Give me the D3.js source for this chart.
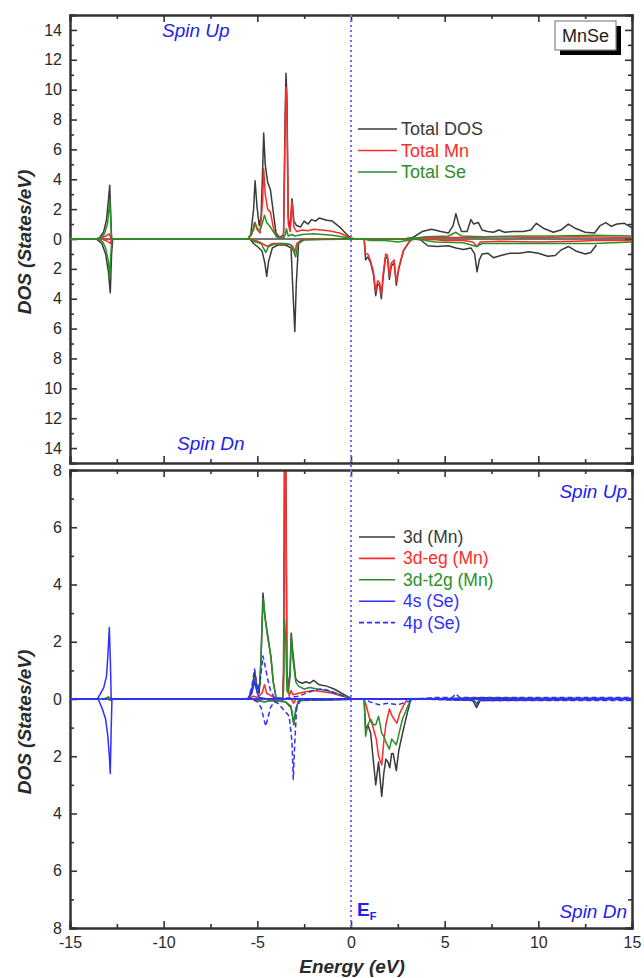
<!DOCTYPE html>
<html><head><meta charset="utf-8">
<script src="https://cdn.jsdelivr.net/npm/d3@7"></script>
<style>body{margin:0;background:#fff}svg{display:block}text{font-family:"Liberation Sans",Arial,sans-serif}</style>
</head><body><svg id="c" width="644" height="978"></svg>
<script>
// ---------- DATA ----------
const xTicks = [-15,-10,-5,0,5,10,15];
const topTicks = [-14,-12,-10,-8,-6,-4,-2,0,2,4,6,8,10,12,14];
const botTicks = [-8,-6,-4,-2,0,2,4,6,8];
const topLegend = ["Total DOS","Total Mn","Total Se"];
const botLegend = ["3d (Mn)","3d-eg (Mn)","3d-t2g (Mn)","4s (Se)","4p (Se)"];

// Top panel: [energy, DOS]
const totalUp = [[-15,0],[-13.6,0],[-13.4,0.1],[-13.2,0.5],[-13.05,1.3],[-12.95,2.6],[-12.88,3.6],[-12.82,1.5],[-12.78,0],[-5.5,0],[-5.35,0.3],[-5.2,2.0],[-5.12,3.9],[-5.02,2.2],[-4.9,0.9],[-4.8,1.5],[-4.72,4.5],[-4.66,7.1],[-4.58,5.0],[-4.45,3.8],[-4.3,3.3],[-4.15,1.8],[-4.0,0.4],[-3.8,0.1],[-3.6,0.3],[-3.52,8],[-3.47,11.1],[-3.42,9.5],[-3.35,1.5],[-3.25,0.6],[-3.15,2.7],[-3.05,1.2],[-2.9,0.9],[-2.7,0.8],[-2.5,1.2],[-2.3,1.0],[-2.1,1.3],[-1.9,1.2],[-1.7,1.4],[-1.3,1.25],[-1,1.2],[-0.6,0.8],[-0.3,0.4],[0,0.05],[0.3,0],[2.8,0],[3.3,0.1],[3.8,0.5],[4.3,0.65],[4.8,0.5],[5.2,0.4],[5.45,0.9],[5.6,1.7],[5.75,1.0],[5.9,0.5],[6.2,0.5],[6.4,1.3],[6.55,1.0],[6.8,1.1],[7.0,0.6],[7.3,0.5],[7.6,0.45],[7.9,0.6],[8.2,0.45],[8.6,0.5],[9.2,0.5],[9.6,0.6],[9.9,1.05],[10.3,0.7],[10.8,0.45],[11.2,0.6],[11.6,1.0],[12.0,0.7],[12.5,0.45],[13.0,0.4],[13.3,0.9],[13.6,1.1],[13.9,0.85],[14.2,1.0],[14.6,1.05],[15,0.75]];
const totalDn = [[-15,0],[-13.6,0],[-13.3,-0.3],[-13.1,-1.0],[-12.95,-2.2],[-12.85,-3.6],[-12.78,-1.0],[-12.72,0],[-5.4,0],[-5.2,-0.3],[-5.0,-0.5],[-4.75,-0.8],[-4.6,-1.6],[-4.5,-2.5],[-4.4,-1.5],[-4.2,-0.6],[-3.9,-0.4],[-3.5,-0.4],[-3.2,-0.6],[-3.1,-3.5],[-3.0,-6.2],[-2.92,-3.0],[-2.8,-0.3],[-2.5,-0.05],[-1,0],[0.7,0],[0.78,-1.4],[0.9,-1.2],[1.05,-1.6],[1.2,-2.4],[1.32,-3.8],[1.42,-3.0],[1.52,-3.1],[1.62,-4.0],[1.72,-2.5],[1.85,-1.2],[1.95,-1.3],[2.05,-2.7],[2.15,-1.8],[2.3,-1.6],[2.42,-3.1],[2.55,-2.0],[2.8,-0.8],[3.1,-0.2],[3.3,0],[3.7,-0.05],[4.1,-0.45],[4.6,-0.5],[5.2,-0.45],[5.6,-0.6],[6.0,-0.7],[6.4,-0.6],[6.6,-1.0],[6.73,-2.2],[6.85,-1.4],[7.0,-1.0],[7.3,-0.95],[7.6,-1.25],[8.0,-1.1],[8.5,-0.95],[9.0,-0.95],[9.5,-0.85],[10.0,-0.95],[10.5,-1.15],[10.9,-1.1],[11.2,-0.75],[11.6,-0.5],[12.0,-0.8],[12.5,-1.0],[12.8,-0.9],[13.1,-0.4]];
const mnUp = [[-15,0],[-13.4,0],[-13.1,0.2],[-12.9,0.35],[-12.8,0],[-5.5,0],[-5.2,0.6],[-5.12,1.1],[-5.0,0.6],[-4.85,0.4],[-4.72,2.5],[-4.66,4.7],[-4.58,3.0],[-4.45,2.0],[-4.3,1.8],[-4.15,0.8],[-4.0,0.15],[-3.6,0.1],[-3.52,7],[-3.47,10.2],[-3.42,8.5],[-3.35,1.0],[-3.25,0.5],[-3.15,2.5],[-3.05,0.8],[-2.9,0.5],[-2.6,0.6],[-2.3,0.55],[-2.0,0.65],[-1.6,0.6],[-1.2,0.55],[-0.6,0.4],[0,0.05],[0.3,0],[3,0],[4,0.1],[6,0.1],[8,0.15],[10,0.1],[12,0.15],[15,0.1]];
const mnDn = [[-15,0],[-13.3,0],[-13.0,-0.15],[-12.85,-0.3],[-12.78,0],[-5.3,0],[-4.9,-0.2],[-4.6,-0.4],[-4.45,-0.5],[-4.2,-0.3],[-3.8,-0.3],[-3.3,-0.35],[-3.1,-0.5],[-3.0,-0.9],[-2.9,-0.3],[-2.6,0],[0.7,0],[0.78,-1.0],[0.9,-1.0],[1.05,-1.5],[1.2,-2.2],[1.32,-3.5],[1.42,-2.8],[1.52,-2.9],[1.62,-3.7],[1.72,-2.3],[1.85,-1.0],[1.95,-1.1],[2.05,-2.5],[2.15,-1.6],[2.3,-1.4],[2.42,-2.9],[2.55,-1.9],[2.8,-0.75],[3.1,-0.2],[3.3,0],[4,0],[5,-0.1],[6,-0.1],[6.5,-0.2],[6.73,-0.5],[6.9,-0.2],[8,-0.15],[10,-0.2],[12,-0.15],[13,-0.1],[15,-0.1]];
const seUp = [[-15,0],[-13.5,0],[-13.3,0.1],[-13.15,0.4],[-13.0,1.0],[-12.92,2.0],[-12.88,2.6],[-12.82,1.0],[-12.78,0],[-5.5,0],[-5.3,0.3],[-5.15,1.1],[-5.0,0.7],[-4.85,0.6],[-4.7,1.2],[-4.62,1.6],[-4.5,1.1],[-4.3,0.8],[-4.1,0.4],[-3.9,0.1],[-3.6,0.05],[-3.5,0.3],[-3.45,0.7],[-3.35,0.2],[-3.15,0.3],[-3.0,0.2],[-2.6,0.3],[-2.0,0.35],[-1.5,0.3],[-1.0,0.25],[-0.5,0.15],[0,0.03],[0.3,0],[3,0],[4,0.15],[5.2,0.2],[5.6,0.45],[5.9,0.2],[7,0.15],[9,0.2],[11,0.2],[13,0.25],[15,0.2]];
const seDn = [[-15,0],[-13.5,0],[-13.25,-0.2],[-13.1,-0.6],[-12.95,-1.5],[-12.88,-2.6],[-12.82,-1.0],[-12.76,0],[-5.4,0],[-5.1,-0.2],[-4.8,-0.3],[-4.55,-0.9],[-4.4,-0.5],[-4.1,-0.35],[-3.8,-0.3],[-3.5,-0.3],[-3.2,-0.4],[-3.05,-0.9],[-2.95,-1.2],[-2.85,-0.4],[-2.6,-0.05],[0.7,0],[1.0,-0.1],[1.8,-0.1],[2.5,-0.2],[3.0,-0.1],[3.5,0],[4.5,-0.2],[6,-0.25],[6.7,-0.5],[7,-0.3],[9,-0.3],[11,-0.3],[13,-0.3],[15,-0.2]];

// Bottom panel: [energy, DOS]
const d3Up = [[-15,0],[-13.2,0],[-12.95,0.05],[-12.8,0],[-5.5,0],[-5.3,0.3],[-5.14,0.95],[-5.0,0.3],[-4.9,0.2],[-4.8,1.5],[-4.7,3.7],[-4.6,2.9],[-4.46,2.3],[-4.28,1.5],[-4.15,0.6],[-4.0,0.05],[-3.65,-0.05],[-3.6,1.0],[-3.55,8.3],[-3.48,8.3],[-3.42,1.0],[-3.35,0.3],[-3.25,1.0],[-3.19,2.3],[-3.1,1.6],[-2.95,0.7],[-2.8,0.6],[-2.6,0.55],[-2.4,0.6],[-2.2,0.55],[-2.0,0.65],[-1.7,0.5],[-1.3,0.45],[-0.9,0.35],[-0.5,0.2],[0,0.02],[0.3,0],[5,0.02],[7,0.04],[10,0.03],[15,0.03]];
const egUp = [[-15,0],[-5.5,0],[-5.2,0.1],[-5.0,0.05],[-4.75,0.2],[-4.62,0.5],[-4.5,0.2],[-4.1,0.05],[-3.65,0],[-3.6,0.8],[-3.55,7.9],[-3.48,7.9],[-3.42,0.8],[-3.3,0.1],[-3.2,0.3],[-3.1,0.15],[-2.8,0.2],[-2.4,0.25],[-2.0,0.3],[-1.5,0.25],[-1.0,0.2],[-0.5,0.1],[0,0.02],[0.3,0],[15,0]];
const t2gUp = [[-15,0],[-13.1,0],[-12.95,0.08],[-12.8,0],[-5.5,0],[-5.3,0.2],[-5.14,0.7],[-5.0,0.25],[-4.85,0.5],[-4.75,2.5],[-4.68,3.5],[-4.58,2.8],[-4.46,2.2],[-4.28,1.5],[-4.15,0.6],[-4.0,0.05],[-3.65,0],[-3.6,0.3],[-3.55,2.8],[-3.48,2.0],[-3.42,0.3],[-3.35,0.2],[-3.25,0.8],[-3.19,2.2],[-3.1,1.4],[-2.95,0.6],[-2.8,0.45],[-2.5,0.35],[-2.2,0.4],[-1.8,0.35],[-1.3,0.3],[-0.8,0.2],[-0.4,0.1],[0,0.02],[0.3,0],[15,0]];
const s4Up = [[-15,0],[-13.55,0],[-13.4,0.15],[-13.2,0.4],[-13.05,0.8],[-12.98,1.5],[-12.9,2.5],[-12.84,1.2],[-12.8,0],[-5.5,0],[-5.3,0.2],[-5.15,0.6],[-5.0,0.2],[-4.9,0.05],[-4.6,0.02],[15,0]];
const p4Up = [[-15,0],[-5.5,0],[-5.3,0.4],[-5.15,1.05],[-5.05,0.6],[-4.95,0.3],[-4.8,0.9],[-4.7,1.5],[-4.6,1.2],[-4.45,0.7],[-4.3,0.3],[-4.1,0.05],[-3.6,0.02],[-3.2,0.05],[-2.8,0.1],[-2.4,0.2],[-2.0,0.3],[-1.6,0.35],[-1.2,0.3],[-0.8,0.2],[-0.4,0.1],[0,0.02],[0.5,0],[3.5,0],[4.5,0.05],[5.4,0.05],[5.6,0.18],[5.8,0.05],[7,0.05],[9,0.05],[11,0.05],[13,0.05],[15,0.05]];
const d3Dn = [[-15,0],[-5.3,0],[-5.0,-0.05],[-4.6,-0.1],[-4.3,-0.05],[-3.5,-0.1],[-3.2,-0.3],[-3.05,-0.9],[-2.95,-0.4],[-2.8,-0.05],[0.7,0],[0.78,-1.05],[0.9,-0.9],[1.05,-1.2],[1.2,-2.2],[1.32,-3.0],[1.47,-2.2],[1.64,-3.4],[1.75,-2.6],[1.86,-2.1],[1.97,-2.2],[2.07,-2.4],[2.17,-1.9],[2.25,-1.9],[2.42,-2.5],[2.55,-1.8],[2.75,-1.2],[3.0,-0.5],[3.2,0],[5.0,-0.02],[6.5,-0.05],[6.7,-0.3],[6.9,-0.05],[15,-0.02]];
const egDn = [[-15,0],[-3.2,0],[-3.05,-0.15],[-2.95,0],[0.7,0],[0.8,-0.2],[1.0,-0.7],[1.14,-0.9],[1.35,-1.4],[1.47,-2.0],[1.64,-2.3],[1.75,-1.5],[1.86,-0.9],[2.05,-0.35],[2.2,-0.6],[2.45,-0.85],[2.6,-0.5],[2.75,-0.3],[3.0,0],[6.5,-0.02],[6.7,-0.15],[6.9,0],[15,0]];
const t2gDn = [[-15,0],[-13.0,0],[-12.85,-0.05],[-12.75,0],[-5.3,0],[-5.0,-0.05],[-4.6,-0.1],[-4.3,-0.05],[-3.5,-0.1],[-3.2,-0.25],[-3.05,-0.85],[-2.95,-0.35],[-2.8,-0.05],[0.7,0],[0.78,-1.3],[0.9,-0.9],[1.05,-0.7],[1.2,-0.9],[1.32,-0.9],[1.47,-0.6],[1.64,-1.2],[1.75,-1.3],[1.86,-1.5],[2.05,-1.75],[2.17,-1.4],[2.3,-1.5],[2.42,-1.6],[2.6,-1.1],[2.75,-0.7],[3.0,-0.3],[3.2,0],[6.5,-0.02],[6.7,-0.15],[6.9,0],[15,0]];
const s4Dn = [[-15,0],[-13.5,0],[-13.3,-0.3],[-13.1,-0.7],[-12.98,-1.3],[-12.9,-2.0],[-12.85,-2.6],[-12.8,-1.0],[-12.76,0],[15,0]];
const p4Dn = [[-15,0],[-5.3,0],[-5.0,-0.1],[-4.8,-0.3],[-4.65,-0.7],[-4.55,-0.95],[-4.45,-0.7],[-4.3,-0.3],[-4.1,-0.1],[-3.9,-0.15],[-3.7,-0.3],[-3.5,-0.45],[-3.3,-0.6],[-3.15,-1.5],[-3.08,-2.8],[-3.0,-1.5],[-2.9,-0.3],[-2.7,-0.05],[0.7,0],[1.0,-0.1],[1.5,-0.2],[2.0,-0.15],[2.5,-0.2],[3.0,-0.1],[3.5,0],[6.5,-0.05],[6.7,-0.2],[6.9,-0.05],[15,-0.05]];

// ---------- STYLE ----------
const C = {k:"#3a3a3a", r:"#ff2b2b", g:"#2a8f2a", b:"#2f2fff"};
const svg = d3.select("#c");
const L = 70, R = 632;
const x = d3.scaleLinear().domain([-15,15]).range([L,R]);
const yT = d3.scaleLinear().domain([-15,15]).range([463,15]);
const yB = d3.scaleLinear().domain([-8,8]).range([928,470]);

function panel(y, ticks, minorStep, id){
  const [y0,y1] = y.range();
  svg.append("clipPath").attr("id",id).append("rect")
    .attr("x",L).attr("y",y1).attr("width",R-L).attr("height",y0-y1);
  svg.append("line").attr("x1",L).attr("x2",R).attr("y1",y(0)).attr("y2",y(0))
    .attr("stroke","#444").attr("stroke-width",1.4);
  const fmt = d => Math.abs(d);
  const minorY = d3.range(y.domain()[0], y.domain()[1]+0.001, minorStep).filter(v=>!ticks.includes(v)&&Math.abs(v)<y.domain()[1]);
  const gL = svg.append("g").attr("transform",`translate(${L},0)`);
  gL.call(d3.axisRight(y).tickValues(ticks).tickSize(7).tickFormat(""));
  gL.append("g").call(d3.axisRight(y).tickValues(minorY).tickSize(4).tickFormat(""));
  const gLab = svg.append("g").attr("transform",`translate(${L},0)`)
    .call(d3.axisLeft(y).tickValues(ticks).tickSize(0).tickPadding(8).tickFormat(fmt));
  gLab.select(".domain").remove();
  const gR = svg.append("g").attr("transform",`translate(${R},0)`);
  gR.call(d3.axisLeft(y).tickValues(ticks).tickSize(7).tickFormat(""));
  gR.append("g").call(d3.axisLeft(y).tickValues(minorY).tickSize(4).tickFormat(""));
  const minorX = [-12.5,-7.5,-2.5,2.5,7.5,12.5];
  const gT = svg.append("g").attr("transform",`translate(0,${y1})`);
  gT.call(d3.axisBottom(x).tickValues(xTicks).tickSize(7).tickFormat(""));
  gT.append("g").call(d3.axisBottom(x).tickValues(minorX).tickSize(4).tickFormat(""));
  const gB = svg.append("g").attr("transform",`translate(0,${y0})`);
  gB.call(d3.axisTop(x).tickValues(xTicks).tickSize(7).tickFormat(""));
  gB.append("g").call(d3.axisTop(x).tickValues(minorX).tickSize(4).tickFormat(""));
  svg.selectAll(".domain").attr("stroke","#333").attr("stroke-width",2);
  svg.selectAll(".tick line").attr("stroke","#333").attr("stroke-width",1.6);
  gLab.selectAll("text").attr("font-size",16).attr("fill","#2a2a2a");
  return id;
}

function draw(data, y, color, clip, dash){
  const line = d3.line().x(d=>x(d[0])).y(d=>y(d[1]));
  svg.append("path").datum(data).attr("d",line).attr("fill","none")
    .attr("stroke",color).attr("stroke-width",1.5).attr("stroke-linejoin","round")
    .attr("stroke-dasharray",dash||null).attr("clip-path",`url(#${clip})`);
}

// ---------- TOP PANEL ----------
const cT = panel(yT, topTicks, 1, "clipT");
draw(totalUp, yT, C.k, cT); draw(totalDn, yT, C.k, cT);
draw(mnUp, yT, C.r, cT); draw(mnDn, yT, C.r, cT);
draw(seUp, yT, C.g, cT); draw(seDn, yT, C.g, cT);

// ---------- BOTTOM PANEL ----------
const cB = panel(yB, botTicks, 1, "clipB");
draw(d3Up, yB, C.k, cB); draw(d3Dn, yB, C.k, cB);
draw(egUp, yB, C.r, cB); draw(egDn, yB, C.r, cB);
draw(t2gUp, yB, C.g, cB); draw(t2gDn, yB, C.g, cB);
draw(s4Up, yB, C.b, cB); draw(s4Dn, yB, C.b, cB);
draw(p4Up, yB, C.b, cB, "5,3"); draw(p4Dn, yB, C.b, cB, "5,3");

// Fermi level
svg.append("line").attr("x1",x(0)).attr("x2",x(0)).attr("y1",15).attr("y2",928)
  .attr("stroke","#6e6eff").attr("stroke-width",2).attr("stroke-dasharray","2,3");

// x axis labels
const gX = svg.append("g").attr("transform",`translate(0,928)`)
  .call(d3.axisBottom(x).tickValues(xTicks).tickSize(0).tickPadding(9).tickFormat(d=>d));
gX.select(".domain").remove();
gX.selectAll("text").attr("font-size",16).attr("fill","#2a2a2a");

// titles
svg.append("text").attr("x",352).attr("y",973).attr("text-anchor","middle")
  .attr("font-size",19).attr("font-weight","bold").attr("font-style","italic").attr("fill","#2a2a2a").text("Energy (eV)");
[242,722].forEach(cy=>{
  svg.append("text").attr("transform",`translate(31,${cy}) rotate(-90)`).attr("text-anchor","middle")
    .attr("font-size",19).attr("font-weight","bold").attr("font-style","italic").attr("fill","#2a2a2a").text("DOS (States/eV)");
});

// annotations
function ital(t,xx,yy,anchor){
  svg.append("text").attr("x",xx).attr("y",yy).attr("text-anchor",anchor||"start")
    .attr("font-size",19).attr("font-style","italic").attr("fill","#2222ee").text(t);
}
ital("Spin Up",162,37); ital("Spin Dn",177,450);
ital("Spin Up",627,498,"end"); ital("Spin Dn",627,918,"end");
const ef = svg.append("text").attr("x",357).attr("y",916).attr("fill","#2222ee").attr("font-weight","bold").attr("font-size",19);
ef.append("tspan").text("E");
ef.append("tspan").attr("font-size",11).attr("dy",4).text("F");

// MnSe box
svg.append("rect").attr("x",560).attr("y",26).attr("width",61).attr("height",29).attr("fill","#000");
svg.append("rect").attr("x",555).attr("y",21).attr("width",61).attr("height",29).attr("fill","#fff").attr("stroke","#888").attr("stroke-width",1.2);
svg.append("text").attr("x",585.5).attr("y",42).attr("text-anchor","middle").attr("font-size",18).attr("fill","#222").text("MnSe");

// legends
const topCols = [C.k, C.r, C.g];
topLegend.forEach((t,i)=>{
  const yy = 129 + i*21.5;
  svg.append("line").attr("x1",358).attr("x2",397).attr("y1",yy).attr("y2",yy).attr("stroke",topCols[i]).attr("stroke-width",1.6);
  svg.append("text").attr("x",401).attr("y",yy+6).attr("font-size",18).attr("fill",topCols[i]).text(t);
});
const botCols = [C.k, C.r, C.g, C.b, C.b];
const botDash = [null,null,null,null,"5,3"];
botLegend.forEach((t,i)=>{
  const yy = 537 + i*21.4;
  svg.append("line").attr("x1",359).attr("x2",395).attr("y1",yy).attr("y2",yy).attr("stroke",botCols[i]).attr("stroke-width",1.6).attr("stroke-dasharray",botDash[i]);
  svg.append("text").attr("x",403).attr("y",yy+6).attr("font-size",17.5).attr("fill",botCols[i]).text(t);
});
</script></body></html>
